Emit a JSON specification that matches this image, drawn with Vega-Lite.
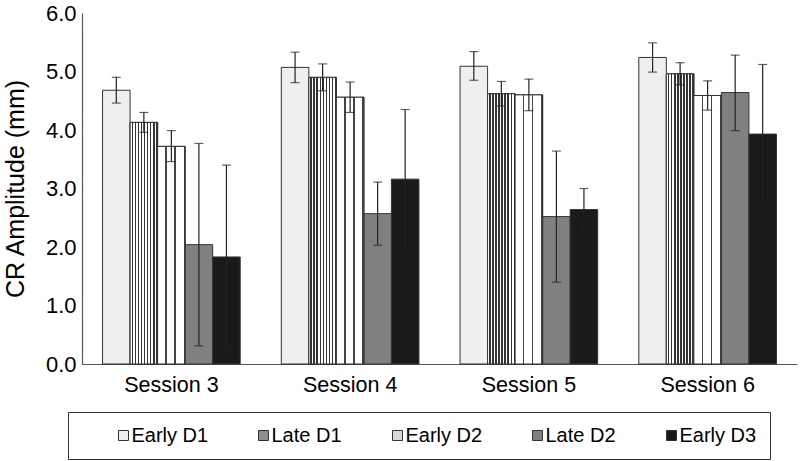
{
  "$schema": "https://vega.github.io/schema/vega-lite/v6.json",
  "width": 715,
  "height": 351,
  "autosize": {"type": "none"},
  "padding": {"left": 82, "top": 13, "right": 3, "bottom": 97},
  "background": "white",
  "config": {"font": "Liberation Sans", "view": {"stroke": null}},
  "data": {"values": [
    {"session": "Session 3", "group": "Early D1", "value": 4.68, "lo": 4.46, "hi": 4.90},
    {"session": "Session 3", "group": "Late D1", "value": 4.13, "lo": 3.96, "hi": 4.30},
    {"session": "Session 3", "group": "Early D2", "value": 3.72, "lo": 3.46, "hi": 3.99},
    {"session": "Session 3", "group": "Late D2", "value": 2.04, "lo": 0.31, "hi": 3.77},
    {"session": "Session 3", "group": "Early D3", "value": 1.83, "lo": 0.26, "hi": 3.40},
    {"session": "Session 4", "group": "Early D1", "value": 5.07, "lo": 4.81, "hi": 5.33},
    {"session": "Session 4", "group": "Late D1", "value": 4.90, "lo": 4.67, "hi": 5.13},
    {"session": "Session 4", "group": "Early D2", "value": 4.56, "lo": 4.30, "hi": 4.82},
    {"session": "Session 4", "group": "Late D2", "value": 2.57, "lo": 2.03, "hi": 3.11},
    {"session": "Session 4", "group": "Early D3", "value": 3.16, "lo": 1.97, "hi": 4.35},
    {"session": "Session 5", "group": "Early D1", "value": 5.09, "lo": 4.85, "hi": 5.34},
    {"session": "Session 5", "group": "Late D1", "value": 4.62, "lo": 4.41, "hi": 4.83},
    {"session": "Session 5", "group": "Early D2", "value": 4.60, "lo": 4.33, "hi": 4.87},
    {"session": "Session 5", "group": "Late D2", "value": 2.52, "lo": 1.40, "hi": 3.64},
    {"session": "Session 5", "group": "Early D3", "value": 2.64, "lo": 2.28, "hi": 3.00},
    {"session": "Session 6", "group": "Early D1", "value": 5.24, "lo": 4.99, "hi": 5.49},
    {"session": "Session 6", "group": "Late D1", "value": 4.96, "lo": 4.77, "hi": 5.15},
    {"session": "Session 6", "group": "Early D2", "value": 4.59, "lo": 4.34, "hi": 4.84},
    {"session": "Session 6", "group": "Late D2", "value": 4.64, "lo": 3.99, "hi": 5.28},
    {"session": "Session 6", "group": "Early D3", "value": 3.93, "lo": 2.74, "hi": 5.12}
  ]},
  "encoding": {
    "x": {
      "field": "session", "type": "nominal",
      "sort": ["Session 3", "Session 4", "Session 5", "Session 6"],
      "scale": {"paddingInner": 0.23, "paddingOuter": 0.115},
      "axis": {"title": null, "labelAngle": 0, "ticks": false, "labelFontSize": 21.5, "labelPadding": 10, "labelColor": "#000", "domainColor": "#555", "domainWidth": 1.2}
    },
    "xOffset": {
      "field": "group", "type": "nominal",
      "sort": ["Early D1", "Late D1", "Early D2", "Late D2", "Early D3"],
      "scale": {"paddingInner": 0, "paddingOuter": 0}
    },
    "y": {"field": "value", "type": "quantitative", "scale": {"domain": [0, 6]}}
  },
  "layer": [
    {
      "mark": {"type": "bar", "stroke": "#333", "strokeWidth": 1},
      "encoding": {
        "y": {
          "field": "value", "type": "quantitative",
          "scale": {"domain": [0, 6]},
          "axis": {"title": "CR Amplitude (mm)", "values": [0, 1, 2, 3, 4, 5, 6], "format": ".1f", "grid": false, "ticks": false, "labelFontSize": 22, "labelPadding": 6, "labelColor": "#000", "titleFontSize": 25, "titleFontWeight": "normal", "titleColor": "#000", "titlePadding": 17, "domainColor": "#555", "domainWidth": 1.2}
        },
        "color": {
          "field": "group", "type": "nominal",
          "sort": ["Early D1", "Late D1", "Early D2", "Late D2", "Early D3"],
          "scale": {"domain": ["Early D1", "Late D1", "Early D2", "Late D2", "Early D3"], "range": ["#efefef", "#8e8e8e", "#d8d8d8", "#808080", "#1a1a1a"]},
          "legend": {
            "title": " ", "titleOrient": "left", "titleFontSize": 11, "titlePadding": 32,
            "orient": "none", "legendX": -14, "legendY": 399,
            "direction": "horizontal", "columns": 5,
            "strokeColor": "#333", "padding": 13.5,
            "symbolType": "square", "symbolSize": 100, "symbolStrokeColor": "#333", "symbolStrokeWidth": 1,
            "labelFontSize": 20, "labelColor": "#000", "labelOffset": -2,
            "labelExpr": "datum.label == 'Early D3' ? datum.label + '    ' : datum.label",
            "columnPadding": 45
          }
        }
      }
    },
    {
      "transform": [{"filter": "datum.group == 'Late D1'"}],
      "mark": {"type": "bar", "stroke": "#333", "strokeWidth": 1, "fill": {"gradient": "linear", "x1": 0, "y1": 0, "x2": 1, "y2": 0, "stops": [
        {"offset": 0, "color": "#ffffff"}, {"offset": 0.0556, "color": "#ffffff"}, {"offset": 0.0556, "color": "#333333"}, {"offset": 0.1111, "color": "#333333"},
        {"offset": 0.1111, "color": "#ffffff"}, {"offset": 0.1667, "color": "#ffffff"}, {"offset": 0.1667, "color": "#333333"}, {"offset": 0.2222, "color": "#333333"},
        {"offset": 0.2222, "color": "#ffffff"}, {"offset": 0.2778, "color": "#ffffff"}, {"offset": 0.2778, "color": "#333333"}, {"offset": 0.3333, "color": "#333333"},
        {"offset": 0.3333, "color": "#ffffff"}, {"offset": 0.3889, "color": "#ffffff"}, {"offset": 0.3889, "color": "#333333"}, {"offset": 0.4444, "color": "#333333"},
        {"offset": 0.4444, "color": "#ffffff"}, {"offset": 0.5, "color": "#ffffff"}, {"offset": 0.5, "color": "#333333"}, {"offset": 0.5556, "color": "#333333"},
        {"offset": 0.5556, "color": "#ffffff"}, {"offset": 0.6111, "color": "#ffffff"}, {"offset": 0.6111, "color": "#333333"}, {"offset": 0.6667, "color": "#333333"},
        {"offset": 0.6667, "color": "#ffffff"}, {"offset": 0.7222, "color": "#ffffff"}, {"offset": 0.7222, "color": "#333333"}, {"offset": 0.7778, "color": "#333333"},
        {"offset": 0.7778, "color": "#ffffff"}, {"offset": 0.8333, "color": "#ffffff"}, {"offset": 0.8333, "color": "#333333"}, {"offset": 0.8889, "color": "#333333"},
        {"offset": 0.8889, "color": "#ffffff"}, {"offset": 0.9444, "color": "#ffffff"}, {"offset": 0.9444, "color": "#333333"}, {"offset": 1, "color": "#333333"}
      ]}},
      "encoding": {}
    },
    {
      "transform": [{"filter": "datum.group == 'Early D2'"}],
      "mark": {"type": "bar", "stroke": "#333", "strokeWidth": 1, "fill": {"gradient": "linear", "x1": 0, "y1": 0, "x2": 1, "y2": 0, "stops": [
        {"offset": 0, "color": "#ffffff"}, {"offset": 0.28, "color": "#ffffff"}, {"offset": 0.28, "color": "#444444"}, {"offset": 0.333, "color": "#444444"},
        {"offset": 0.333, "color": "#ffffff"}, {"offset": 0.613, "color": "#ffffff"}, {"offset": 0.613, "color": "#444444"}, {"offset": 0.667, "color": "#444444"},
        {"offset": 0.667, "color": "#ffffff"}, {"offset": 0.947, "color": "#ffffff"}, {"offset": 0.947, "color": "#444444"}, {"offset": 1, "color": "#444444"}
      ]}},
      "encoding": {}
    },
    {
      "mark": {"type": "rule", "color": "#222", "strokeWidth": 1.2},
      "encoding": {"y": {"field": "lo", "type": "quantitative"}, "y2": {"field": "hi"}}
    },
    {
      "mark": {"type": "tick", "color": "#222", "size": 9, "thickness": 1.2},
      "encoding": {"y": {"field": "lo", "type": "quantitative"}}
    },
    {
      "mark": {"type": "tick", "color": "#222", "size": 9, "thickness": 1.2},
      "encoding": {"y": {"field": "hi", "type": "quantitative"}}
    }
  ]
}
